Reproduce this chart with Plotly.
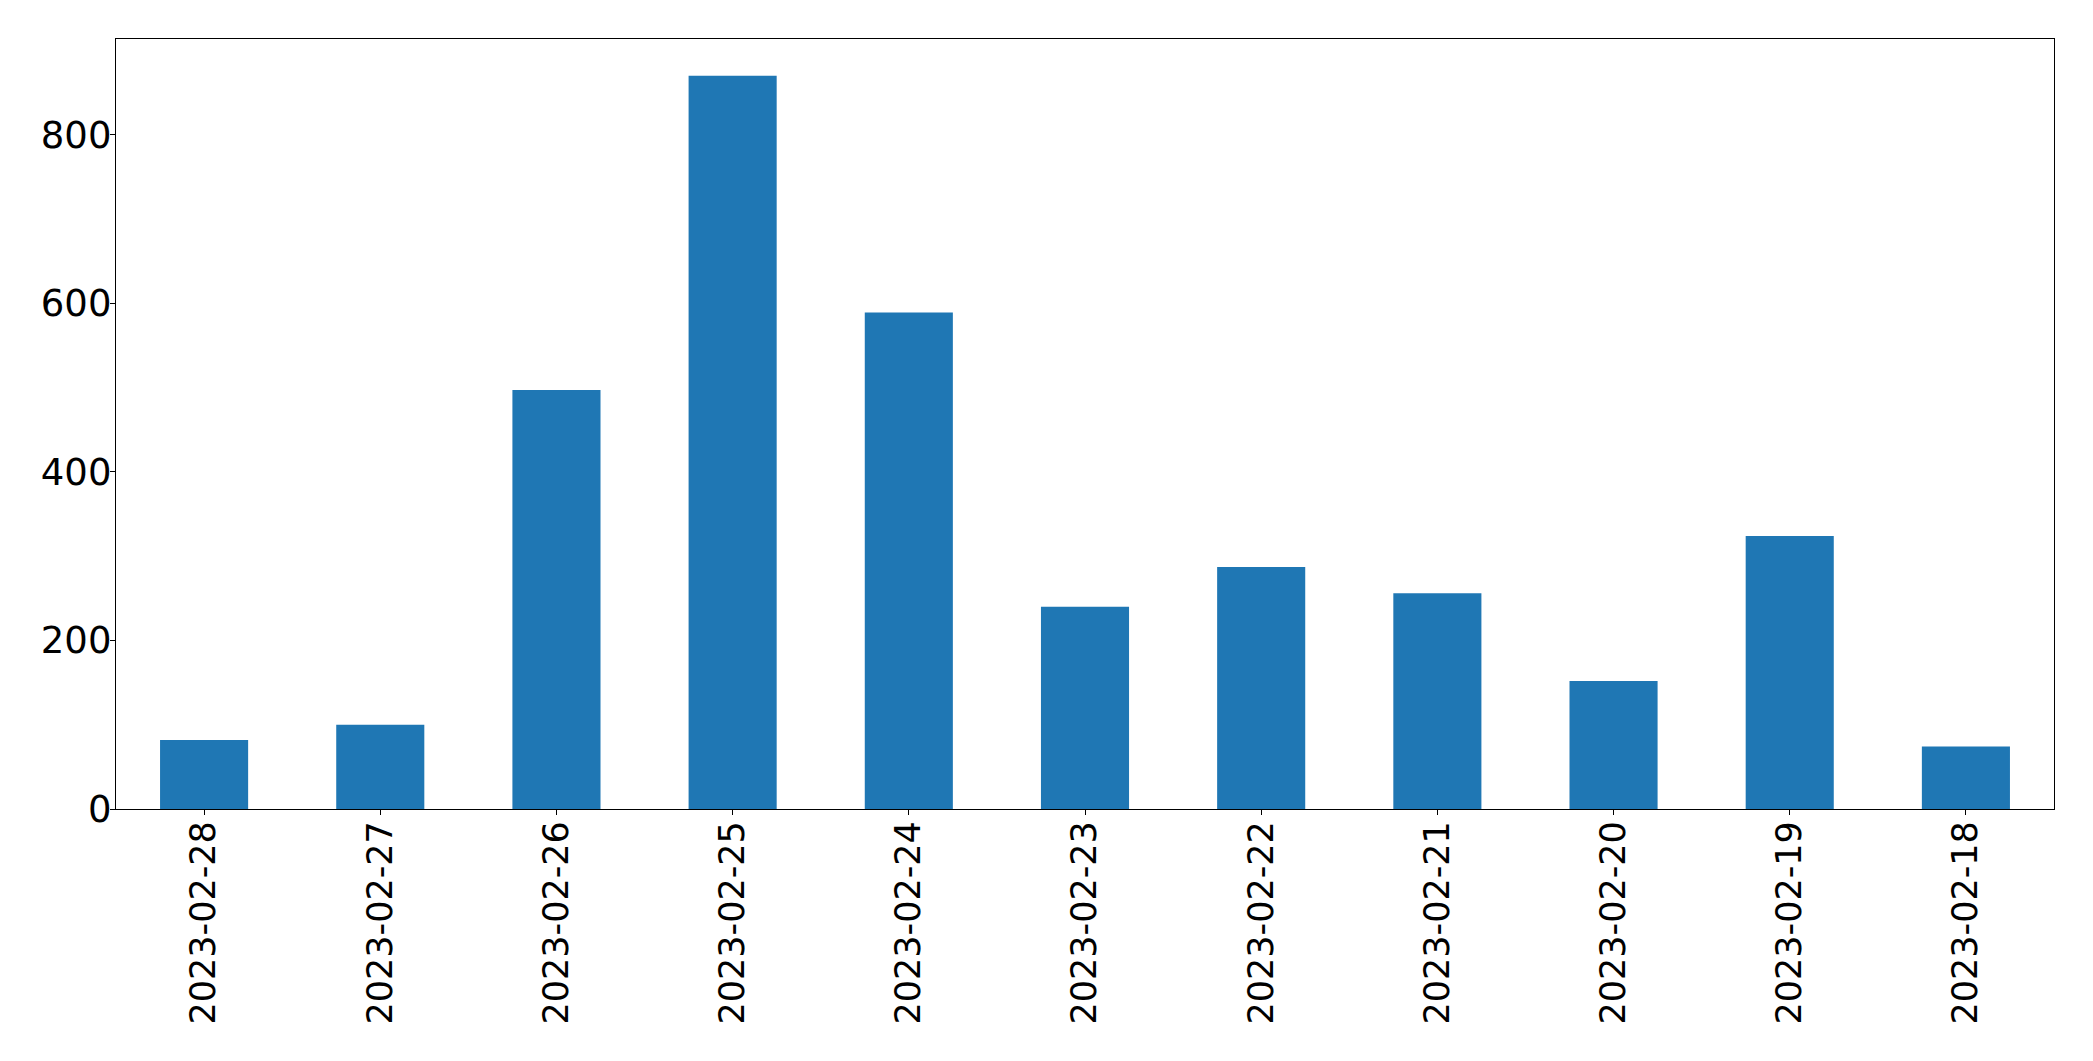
import plotly.graph_objects as go

dates = ["2023-02-28", "2023-02-27", "2023-02-26", "2023-02-25", "2023-02-24",
         "2023-02-23", "2023-02-22", "2023-02-21", "2023-02-20", "2023-02-19",
         "2023-02-18"]
counts = [82, 100, 497, 870, 589, 240, 287, 256, 152, 324, 74]
y_ticks = [0, 200, 400, 600, 800]

fig = go.Figure(go.Bar(x=dates, y=counts, marker=dict(color="#1f77b4", line=dict(width=0)), width=0.5))

fig.update_layout(
    width=2093, height=1061,
    margin=dict(l=116, r=39, t=39, b=252),
    paper_bgcolor="white", plot_bgcolor="white",
    font=dict(family="DejaVu Sans", size=35, color="black"),
    showlegend=False,
)
fig.update_xaxes(
    type="category", range=[-0.5, len(dates) - 0.5],
    tickangle=-90, ticks="outside", ticklen=5, tickwidth=1.3, tickcolor="black",
    showline=True, linecolor="black", linewidth=1.3, mirror=True,
    showgrid=False, zeroline=False, ticklabelstandoff=-8,
)
fig.update_yaxes(
    range=[0, max(counts) * 1.05], tickvals=y_ticks,
    ticks="outside", ticklen=5, tickwidth=1.3, tickcolor="black",
    showline=True, linecolor="black", linewidth=1.3, mirror=True,
    showgrid=False, zeroline=False, ticklabelstandoff=-9,
    tickfont=dict(size=37),
)
fig.write_html("out.html")
